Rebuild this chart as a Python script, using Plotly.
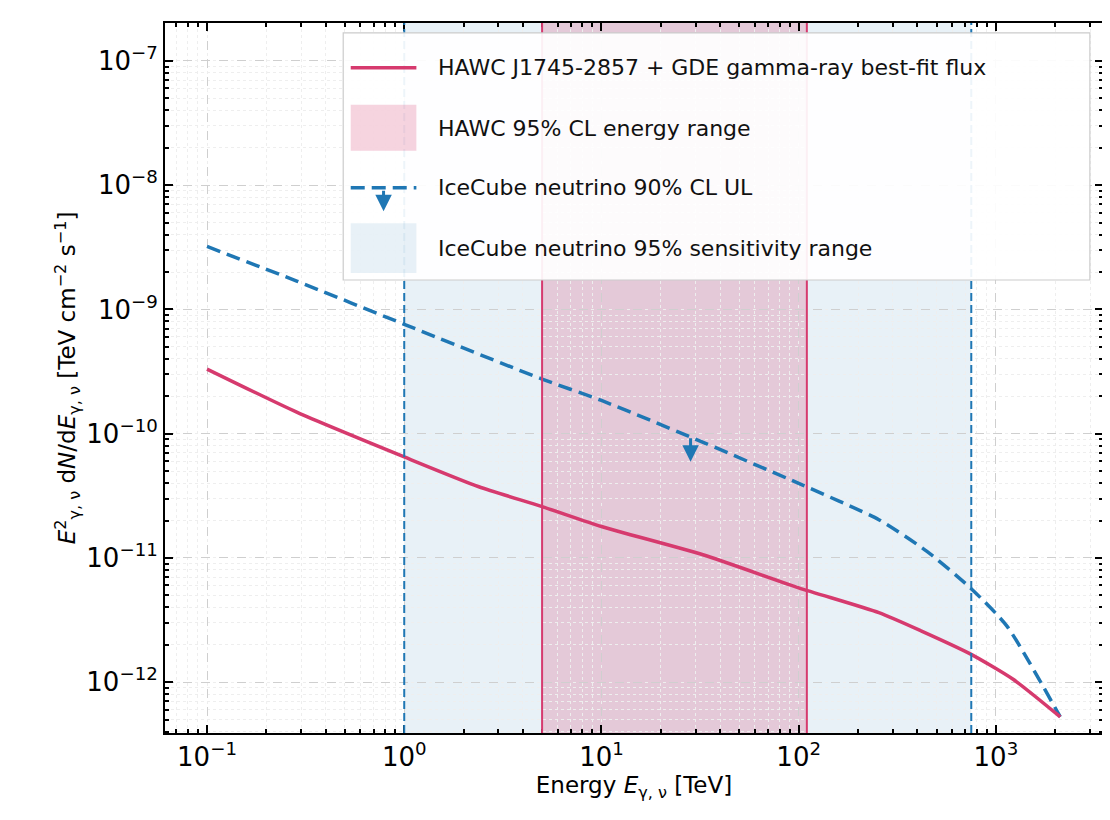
import math
import plotly.graph_objects as go

# Energies [TeV] and E^2 dN/dE [TeV cm^-2 s^-1]
hawc_energy = [0.1, 0.285, 1.0, 2.39, 5.0, 10.0, 32.7, 100.0, 255.0, 417.0, 741.0, 1217.0, 2120.0]
hawc_flux = [3.31e-10, 1.49e-10, 6.50e-11, 3.74e-11, 2.59e-11, 1.79e-11, 1.06e-11,
             5.75e-12, 3.63e-12, 2.59e-12, 1.69e-12, 1.06e-12, 5.25e-13]

icecube_energy = [0.1, 0.285, 1.0, 5.0, 10.0, 28.3, 100.0, 255.0, 447.0, 741.0, 1135.0, 2120.0]
icecube_ul = [3.21e-9, 1.69e-9, 7.59e-10, 2.75e-10, 1.85e-10, 9.40e-11, 3.98e-11,
              2.03e-11, 1.13e-11, 5.75e-12, 2.84e-12, 5.25e-13]

hawc_range = [5.0, 110.0]
icecube_range = [1.0, 750.0]
arrow_energy = 28.3
arrow_flux = 9.4e-11

x_tickvals = [0.1, 1, 10, 100, 1000]
x_ticktext = ['10<sup>−1</sup>', '10<sup>0</sup>', '10<sup>1</sup>', '10<sup>2</sup>', '10<sup>3</sup>']
y_tickvals = [1e-12, 1e-11, 1e-10, 1e-9, 1e-8, 1e-7]
y_ticktext = ['10<sup>−12</sup>', '10<sup>−11</sup>', '10<sup>−10</sup>',
              '10<sup>−9</sup>', '10<sup>−8</sup>', '10<sup>−7</sup>']

legend_labels = ['HAWC J1745-2857 + GDE gamma-ray best-fit flux', 'HAWC 95% CL energy range',
                 'IceCube neutrino 90% CL UL', 'IceCube neutrino 95% sensitivity range']

RED = '#d63a6e'
BLUE = '#1f77b4'
DASH = '14px,7px'

fig = go.Figure()

# sensitivity / energy ranges
fig.add_vrect(x0=icecube_range[0], x1=icecube_range[1], fillcolor='rgba(31,119,180,0.10)',
              line_width=0, layer='below')
fig.add_vrect(x0=hawc_range[0], x1=hawc_range[1], fillcolor='rgba(214,58,110,0.22)',
              line_width=0, layer='below')
for e in icecube_range:
    fig.add_vline(x=e, line=dict(color=BLUE, width=2, dash='8px,4px'))
for e in hawc_range:
    fig.add_vline(x=e, line=dict(color=RED, width=2))

fig.add_trace(go.Scatter(x=icecube_energy, y=icecube_ul, mode='lines', line_shape='spline',
                         line=dict(color=BLUE, width=3.5, dash=DASH, smoothing=0.6)))
fig.add_trace(go.Scatter(x=hawc_energy, y=hawc_flux, mode='lines', line_shape='spline',
                         line=dict(color=RED, width=3.5, smoothing=0.6)))

# upper-limit arrow (pointing down from the UL curve)
fig.add_annotation(x=math.log10(arrow_energy), y=math.log10(arrow_flux) - 0.2,
                   ax=0, ay=-25, text='', showarrow=True,
                   arrowhead=2, arrowsize=1.1, arrowwidth=3, arrowcolor=BLUE)

# custom legend
fig.add_shape(type='rect', xref='paper', yref='paper', x0=0.19, x1=0.986, y0=0.638, y1=0.986,
              fillcolor='rgba(255,255,255,0.92)', line=dict(color='#cccccc', width=1.2))
fig.add_shape(type='line', xref='paper', yref='paper', x0=0.198, x1=0.268, y0=0.937, y1=0.937,
              line=dict(color=RED, width=3.5))
fig.add_shape(type='rect', xref='paper', yref='paper', x0=0.198, x1=0.268, y0=0.82, y1=0.885,
              fillcolor='rgba(214,58,110,0.22)', line_width=0)
fig.add_shape(type='line', xref='paper', yref='paper', x0=0.198, x1=0.268, y0=0.768, y1=0.768,
              line=dict(color=BLUE, width=3.5, dash=DASH))
fig.add_annotation(xref='paper', yref='paper', x=0.233, y=0.735, ax=0, ay=-22, text='',
                   showarrow=True, arrowhead=2, arrowsize=1.1, arrowwidth=3, arrowcolor=BLUE)
fig.add_shape(type='rect', xref='paper', yref='paper', x0=0.198, x1=0.268, y0=0.648, y1=0.718,
              fillcolor='rgba(31,119,180,0.10)', line_width=0)
for label, yy in zip(legend_labels, [0.937, 0.852, 0.768, 0.683]):
    fig.add_annotation(xref='paper', yref='paper', x=0.289, y=yy, text=label, showarrow=False,
                       xanchor='left', yanchor='middle', font=dict(size=22, color='#111'))

axis_common = dict(type='log', showline=True, linecolor='black', linewidth=2, mirror='ticks',
                   ticks='inside', ticklen=8, tickwidth=1.5, tickcolor='black',
                   showgrid=True, gridcolor='#cfcfcf', griddash='dash', gridwidth=1,
                   zeroline=False, tickfont=dict(size=26, color='black'),
                   minor=dict(ticks='inside', ticklen=4, tickcolor='black', dtick='D1',
                              showgrid=True, gridcolor='#eeeeee', griddash='dot'))

fig.update_xaxes(**axis_common, range=[-1.213, 3.543], tickvals=x_tickvals, ticktext=x_ticktext,
                 title=dict(text='Energy <i>E</i><sub>γ, ν</sub> [TeV]', font=dict(size=23, color='black'),
                            standoff=6))
fig.update_yaxes(**axis_common, range=[-12.409, -6.695], tickvals=y_tickvals, ticktext=y_ticktext,
                 title=dict(text='<i>E</i><sup>2</sup><sub>γ, ν</sub> d<i>N</i>/d<i>E</i><sub>γ, ν</sub> '
                                 '[TeV cm<sup>−2</sup> s<sup>−1</sup>]',
                            font=dict(size=23, color='black'), standoff=4))

fig.update_layout(width=1110, height=820, showlegend=False,
                  plot_bgcolor='white', paper_bgcolor='white',
                  font=dict(family='DejaVu Sans'),
                  margin=dict(l=157, r=15, t=15, b=95))

fig.write_html('out.html')
